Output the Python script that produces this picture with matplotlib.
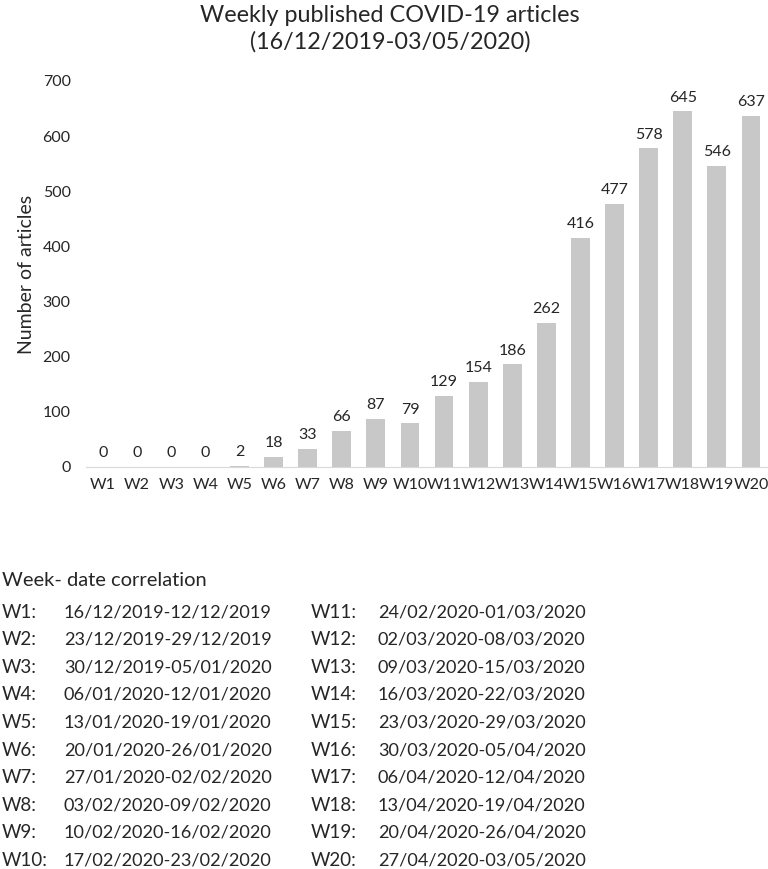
import matplotlib.pyplot as plt
import numpy as np

plt.rcParams['font.family'] = ['Lato', 'DejaVu Sans']

weeks = ['W%d' % i for i in range(1, 21)]
articles = [0, 0, 0, 0, 2, 18, 33, 66, 87, 79, 129, 154, 186, 262, 416, 477, 578, 645, 546, 637]
yticks = [0, 100, 200, 300, 400, 500, 600, 700]

date_ranges = ['16/12/2019-12/12/2019', '23/12/2019-29/12/2019', '30/12/2019-05/01/2020',
               '06/01/2020-12/01/2020', '13/01/2020-19/01/2020', '20/01/2020-26/01/2020',
               '27/01/2020-02/02/2020', '03/02/2020-09/02/2020', '10/02/2020-16/02/2020',
               '17/02/2020-23/02/2020', '24/02/2020-01/03/2020', '02/03/2020-08/03/2020',
               '09/03/2020-15/03/2020', '16/03/2020-22/03/2020', '23/03/2020-29/03/2020',
               '30/03/2020-05/04/2020', '06/04/2020-12/04/2020', '13/04/2020-19/04/2020',
               '20/04/2020-26/04/2020', '27/04/2020-03/05/2020']

txt = '#262626'
W, H = 768, 869
fig = plt.figure(figsize=(W / 100, H / 100), dpi=100)
ax = fig.add_axes([86 / W, 1 - 467 / H, (768 - 86) / W, (467 - 81) / H])

x = np.arange(len(weeks))
bars = ax.bar(x, articles, width=0.55, color='#c8c8c8')
for xi, v in zip(x, articles):
    ax.text(xi, v + 12, str(v), ha='center', va='bottom', fontsize=11.5, color=txt)

ax.set_xlim(-0.5, len(weeks) - 0.5)
ax.set_ylim(0, 700)
ax.set_yticks(yticks)
ax.set_xticks(x)
ax.set_xticklabels(weeks)
ax.tick_params(axis='both', length=0, labelsize=11.5, colors=txt)
ax.tick_params(axis='y', pad=11)
ax.tick_params(axis='x', pad=8)
for s in ['top', 'right', 'left']:
    ax.spines[s].set_visible(False)
ax.spines['bottom'].set_color('#d9d9d9')
ax.set_ylabel('Number of articles', fontsize=14, color=txt)
ax.yaxis.set_label_coords(-0.075, 0.5)

fig.text(390 / W, 1 - 29 / H, 'Weekly published COVID-19 articles\n(16/12/2019-03/05/2020)',
         ha='center', va='center', fontsize=16.8, color=txt, linespacing=1.3)

# week/date table below the chart
fig.text(2 / W, 1 - 580 / H, 'Week- date correlation', ha='left', va='center', fontsize=14.5, color=txt)
for i, (wk, dr) in enumerate(zip(weeks, date_ranges)):
    col = i // 10
    row = i % 10
    y = 1 - (612 + row * 27.6) / H
    x0 = 2 if col == 0 else 311
    x1 = 64 if col == 0 else 378
    fig.text(x0 / W, y, wk + ':', ha='left', va='center', fontsize=13.5, color=txt)
    fig.text(x1 / W, y, dr, ha='left', va='center', fontsize=13.1, color=txt)

plt.savefig('out.png', dpi=100)
